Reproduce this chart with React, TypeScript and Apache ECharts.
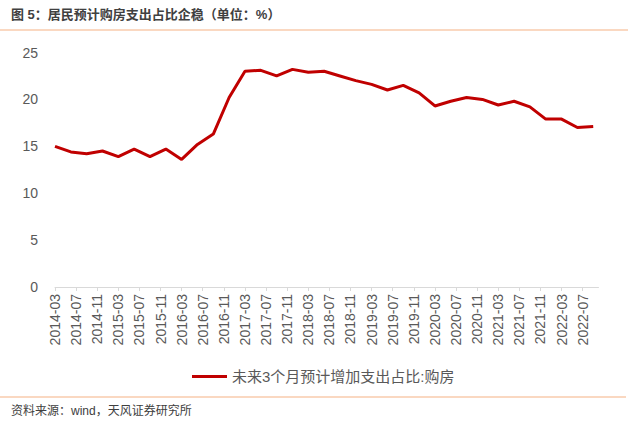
import React, { useEffect, useRef } from "react";
import * as echarts from "echarts";

const dates = [
  "2014-03", "2014-06", "2014-09", "2014-12",
  "2015-03", "2015-06", "2015-09", "2015-12",
  "2016-03", "2016-06", "2016-09", "2016-12",
  "2017-03", "2017-06", "2017-09", "2017-12",
  "2018-03", "2018-06", "2018-09", "2018-12",
  "2019-03", "2019-06", "2019-09", "2019-12",
  "2020-03", "2020-06", "2020-09", "2020-12",
  "2021-03", "2021-06", "2021-09", "2021-12",
  "2022-03", "2022-06", "2022-09",
];

const values = [
  15.0, 14.4, 14.2, 14.5,
  13.9, 14.7, 13.9, 14.7,
  13.6, 15.2, 16.3, 20.2,
  23.0, 23.1, 22.5, 23.2,
  22.9, 23.0, 22.5, 22.0,
  21.6, 21.0, 21.5, 20.7,
  19.3, 19.8, 20.2, 20.0,
  19.4, 19.8, 19.2, 17.9,
  17.9, 17.0, 17.1,
];

const yTicks = [0, 5, 10, 15, 20, 25];

const seriesName = "未来3个月预计增加支出占比:购房";
const titleText = "图 5：居民预计购房支出占比企稳（单位：%）";
const sourceText = "资料来源：wind，天风证券研究所";

const BASE_YEAR = 2014;
const BASE_MONTH = 3;

function toIndex(d: string): number {
  const [y, m] = d.split("-").map(Number);
  return (y - BASE_YEAR) * 12 + (m - BASE_MONTH);
}

function fromIndex(i: number): string {
  const total = BASE_MONTH - 1 + Math.round(i);
  const y = BASE_YEAR + Math.floor(total / 12);
  const m = (total % 12) + 1;
  return `${y}-${m < 10 ? "0" + m : m}`;
}

const FONT = "'Liberation Sans', 'Noto Sans CJK SC', sans-serif";

export default function App() {
  const ref = useRef<HTMLDivElement>(null);

  useEffect(() => {
    if (!ref.current) return;
    const chart = echarts.init(ref.current, undefined, { renderer: "svg" });
    const data = dates.map((d, i) => [toIndex(d), values[i]]);
    chart.setOption({
      animation: false,
      backgroundColor: "#ffffff",
      textStyle: { fontFamily: FONT },
      grid: { left: 55, right: 41.5, top: 52.5, bottom: 141, containLabel: false },
      xAxis: {
        type: "value",
        min: 0,
        max: 103,
        interval: 4,
        splitLine: { show: false },
        axisLine: { show: true, lineStyle: { color: "#d9d9d9", width: 1 } },
        axisTick: { show: true, length: 4, lineStyle: { color: "#d9d9d9" } },
        axisLabel: {
          rotate: 90,
          margin: 7,
          fontSize: 14,
          color: "#595959",
          fontFamily: FONT,
          showMaxLabel: false,
          formatter: (v: number) => (v > 100 ? "" : fromIndex(v)),
        },
      },
      yAxis: {
        type: "value",
        min: yTicks[0],
        max: yTicks[yTicks.length - 1],
        interval: yTicks[1] - yTicks[0],
        splitLine: { show: false },
        axisLine: { show: false },
        axisTick: { show: false },
        axisLabel: { fontSize: 14, color: "#595959", margin: 17, fontFamily: FONT },
      },
      legend: {
        left: 187,
        top: 364,
        icon: "rect",
        itemWidth: 35,
        itemHeight: 3,
        textStyle: { fontSize: 15, color: "#595959", fontFamily: FONT },
        data: [seriesName],
      },
      series: [
        {
          name: seriesName,
          type: "line",
          data,
          showSymbol: false,
          symbol: "none",
          lineStyle: { color: "#c00000", width: 3 },
          itemStyle: { color: "#c00000" },
        },
      ],
      graphic: [
        {
          type: "text",
          left: 11,
          top: 8,
          style: {
            text: titleText,
            fontSize: 13,
            fontWeight: "bold",
            fill: "#404040",
            fontFamily: FONT,
          },
        },
        {
          type: "line",
          shape: { x1: 0, y1: 30, x2: 628, y2: 30 },
          style: { stroke: "#f8cbad", lineWidth: 1.5 },
        },
        {
          type: "line",
          shape: { x1: 0, y1: 397, x2: 626, y2: 397 },
          style: { stroke: "#f8cbad", lineWidth: 1.5 },
        },
        {
          type: "text",
          left: 11,
          top: 405,
          style: {
            text: sourceText,
            fontSize: 12,
            fill: "#404040",
            fontFamily: FONT,
          },
        },
      ],
    });
    return () => chart.dispose();
  }, []);

  return (
    <div
      ref={ref}
      style={{ position: "fixed", left: 0, top: 0, width: 640, height: 428 }}
    />
  );
}
